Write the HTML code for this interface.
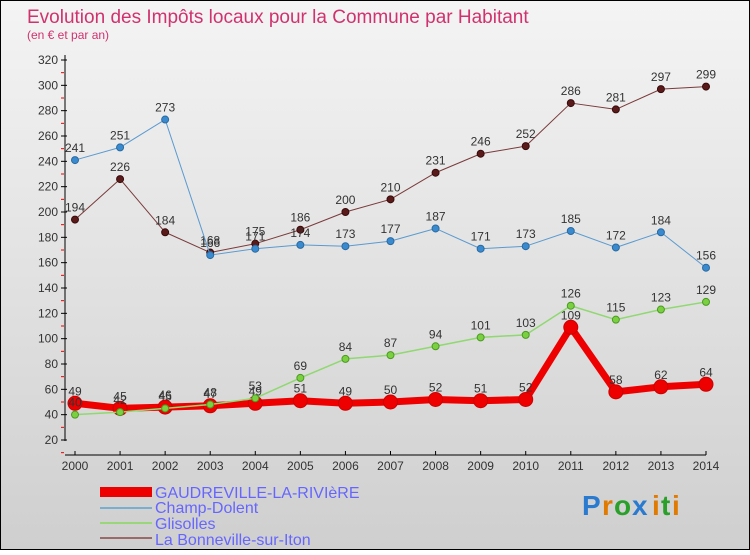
<!DOCTYPE html>
<html><head><meta charset="utf-8"><style>
body{margin:0}
svg text{font-family:"Liberation Sans",sans-serif}
</style></head><body>
<svg id="c" width="750" height="550" xmlns="http://www.w3.org/2000/svg">
<defs><linearGradient id="bg" x1="0" y1="0" x2="0" y2="1"><stop offset="0" stop-color="#f4f4f4"/><stop offset="1" stop-color="#cfcfcf"/></linearGradient></defs>
<rect x="0.5" y="0.5" width="749" height="549" fill="url(#bg)" stroke="#000"/>
<text x="27" y="23" font-size="19" fill="#d0326e">Evolution des Impôts locaux pour la Commune par Habitant</text>
<text x="27" y="39" font-size="12" fill="#d0326e">(en € et par an)</text>
<g id="axes"></g><g id="series"></g>
<g>
<rect x="100" y="487" width="52" height="10" fill="#e00"/>
<line x1="100" y1="508" x2="152" y2="508" stroke="#7aaed0" stroke-width="2"/>
<line x1="100" y1="523" x2="152" y2="523" stroke="#9ad67a" stroke-width="2"/>
<line x1="100" y1="538" x2="152" y2="538" stroke="#9a6a6a" stroke-width="2"/>
<g font-size="16" fill="#6666ff">
<text x="155" y="498">GAUDREVILLE-LA-RIVIèRE</text>
<text x="155" y="513">Champ-Dolent</text>
<text x="155" y="529">Glisolles</text>
<text x="155" y="545">La Bonneville-sur-Iton</text>
</g></g>
<g font-size="28" font-weight="bold">
<text x="582" y="515" fill="#2a7bd0">P</text><text x="602" y="515" fill="#e07a00">r</text><text x="614" y="515" fill="#2aa02a">o</text><text x="632" y="515" fill="#2a7bd0">x</text><text x="652" y="515" fill="#e07a00">i</text><text x="661" y="515" fill="#2aa02a">t</text><text x="672" y="515" fill="#e07a00">i</text>
</g>
</svg>
<script>
const years=[2000,2001,2002,2003,2004,2005,2006,2007,2008,2009,2010,2011,2012,2013,2014];
const yTicks=[20,40,60,80,100,120,140,160,180,200,220,240,260,280,300,320];
const gaudreville=[49,45,46,47,49,51,49,50,52,51,52,109,58,62,64];
const champDolent=[241,251,273,166,171,174,173,177,187,171,173,185,172,184,156];
const glisolles=[40,42,45,48,53,69,84,87,94,101,103,126,115,123,129];
const bonneville=[194,226,184,168,175,186,200,210,231,246,252,286,281,297,299];
const NS="http://www.w3.org/2000/svg";
const X=i=>75+i*(706-75)/14;
const Y=v=>440-(v-20)*380/300;
function mk(t,a,p){const e=document.createElementNS(NS,t);for(const k in a)e.setAttribute(k,a[k]);p.appendChild(e);return e;}
const ax=document.getElementById('axes');
const yl=mk('line',{x1:65,y1:55,x2:65,y2:441,stroke:'#000'},ax);


const xl=mk('line',{x1:65,y1:455,x2:706,y2:455,stroke:'#000'},ax);


yTicks.forEach(v=>{const y=Y(v);
mk('line',{x1:61,y1:y,x2:67,y2:y,stroke:'#000'},ax);
mk('line',{x1:61,y1:y+12.67,x2:64,y2:y+12.67,stroke:'#e00'},ax);
const t=mk('text',{x:58,y:y+4,'text-anchor':'end','font-size':12,fill:'#333'},ax);t.textContent=v;

});
years.forEach((yr,i)=>{const x=X(i);mk('line',{x1:x,y1:451,x2:x,y2:455,stroke:'#000'},ax);
const t=mk('text',{x:x,y:470,'text-anchor':'middle','font-size':12,fill:'#333'},ax);t.textContent=yr;

});
const sg=document.getElementById('series');
function series(vals,name,col,w,r,dot,dotStroke){
const g=mk('g',{},sg);


const pl=mk('polyline',{points:vals.map((v,i)=>X(i)+','+Y(v)).join(' '),fill:'none',stroke:col,'stroke-width':w,'stroke-linejoin':'round'},g);


vals.forEach((v,i)=>{const c=mk('circle',{cx:X(i),cy:Y(v),r:r,fill:dot,stroke:dotStroke,'stroke-width':1},g);


const t=mk('text',{x:X(i),y:Y(v)-8,'text-anchor':'middle','font-size':12,fill:'#333'},g);t.textContent=v;

});}
series(bonneville,'bonneville','#7a3a3a',1,3.5,'#5a1a1a','#3a0a0a');
series(champDolent,'champ-dolent','#5a9ad0',1,3.5,'#3a8ad0','#2a6aa0');
series(gaudreville,'gaudreville','#ee0000',7,7,'#ee0000','#cc0000');
series(glisolles,'glisolles','#90d870',1.5,3.5,'#7ad040','#4a9a20');
</script>
</body></html>
